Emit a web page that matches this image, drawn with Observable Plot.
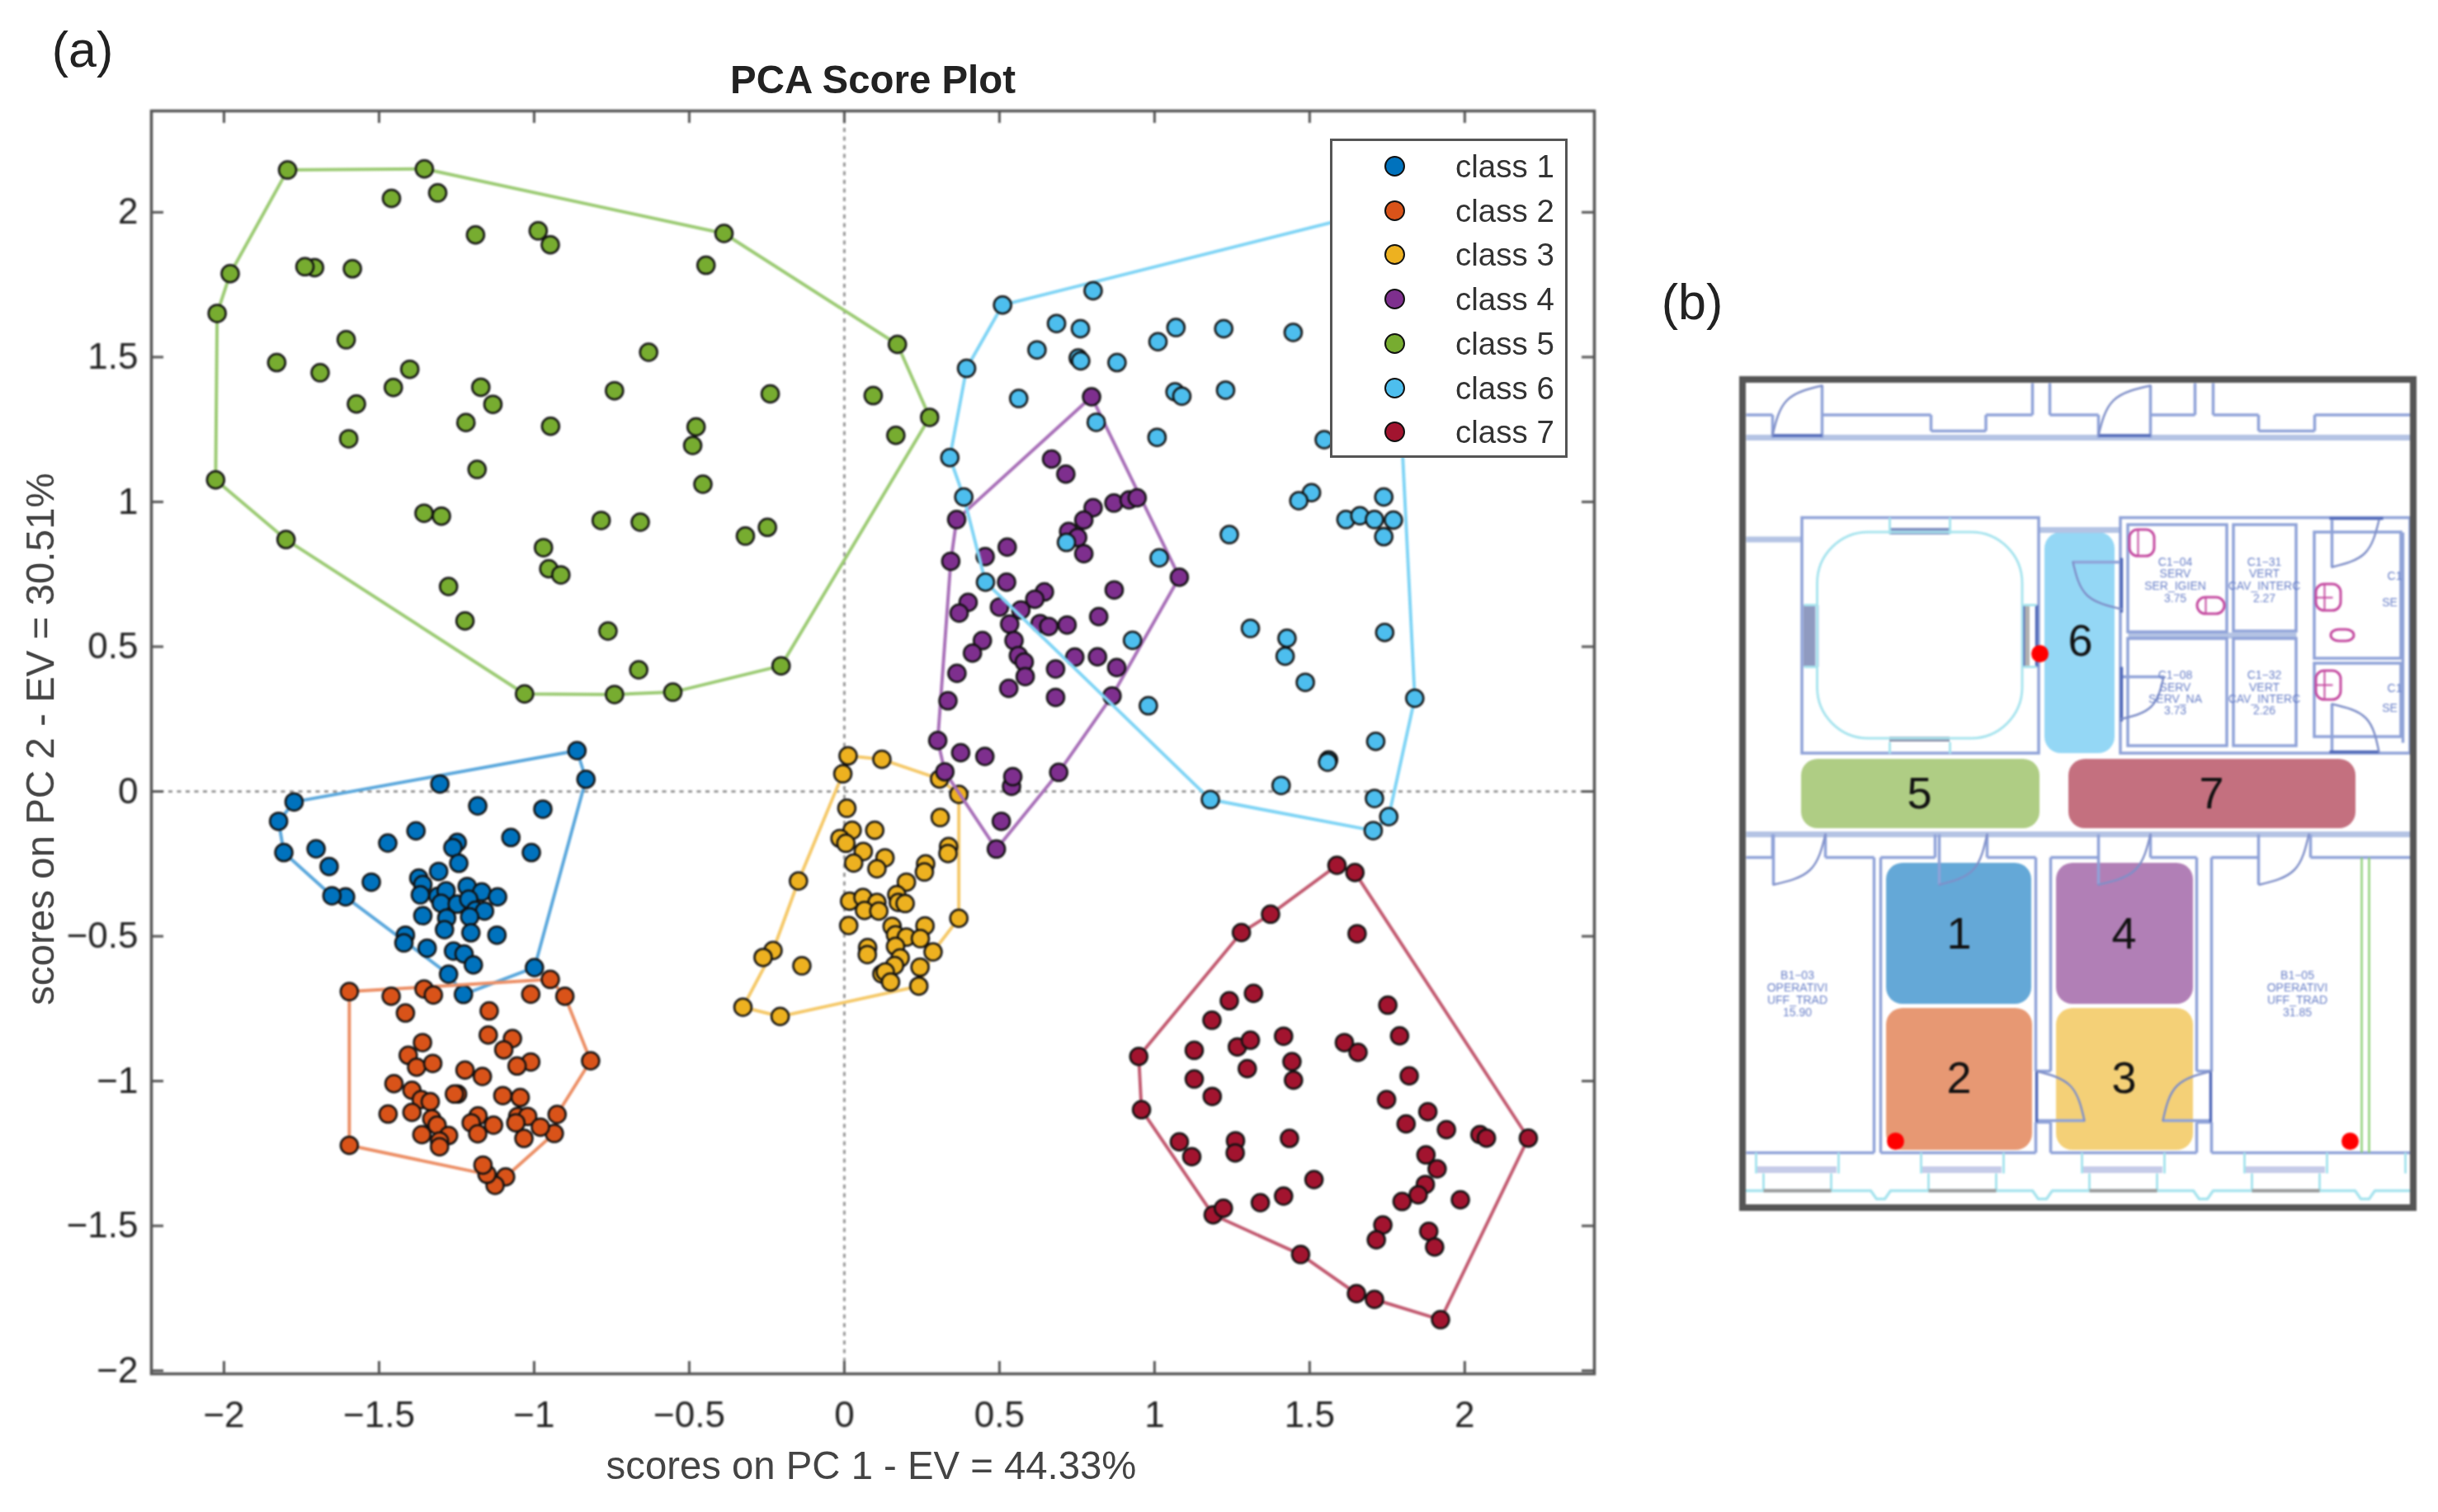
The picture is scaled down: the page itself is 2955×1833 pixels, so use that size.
<!DOCTYPE html>
<html>
<head>
<meta charset="utf-8">
<script src="https://cdn.jsdelivr.net/npm/d3@7"></script>
<script src="https://cdn.jsdelivr.net/npm/@observablehq/plot@0.6"></script>
<style>
html,body{margin:0;padding:0;background:#fff;width:2955px;height:1833px;overflow:hidden;font-family:"Liberation Sans",Arial,sans-serif}
#stage{position:relative;width:2955px;height:1833px}
#stage svg{filter:blur(.9px)}
.abs{position:absolute;color:#222;white-space:nowrap;filter:blur(.6px)}
#legend{position:absolute;left:1612px;top:168px;width:282px;height:381px;background:#fff;border:3.5px solid #555;filter:blur(.6px)}
#legend .dot{position:absolute;left:63px;width:21px;height:21px;border-radius:50%;border:2.5px solid #111}
#legend .lab{position:absolute;left:149px;font-size:38.5px;line-height:40px;color:#333}
</style>
</head>
<body>
<div id="stage"></div>
<script>
// ---------- (a) PCA scores ----------
const classNames = ["class 1","class 2","class 3","class 4","class 5","class 6","class 7"];
const classColors = ["#0072BD","#D95319","#EDB120","#7E2F8E","#77AC30","#4DBEEE","#A2142F"];
const hullColors = ["#5aa7dc","#ec8f66","#f5c96a","#a86fb8","#9ccb74","#7fd4f5","#c25a70"];
const xTicks = [-2,-1.5,-1,-0.5,0,0.5,1,1.5,2];
const yTicks = [-2,-1.5,-1,-0.5,0,0.5,1,1.5,2];

const hull1 = [[-0.862,0.141],[-0.833,0.042],[-0.999,-0.608],[-1.228,-0.701],[-1.276,-0.631],[-1.608,-0.364],[-1.652,-0.36],[-1.807,-0.211],[-1.824,-0.103],[-1.774,-0.036]];
const inner1 = [[-1.304,0.026],[-1.182,-0.05],[-0.972,-0.061],[-1.075,-0.159],[-1.009,-0.211],[-1.381,-0.136],[-1.472,-0.178],[-1.248,-0.176],[-1.262,-0.194],[-1.703,-0.198],[-1.661,-0.259],[-1.243,-0.248],[-1.308,-0.276],[-1.525,-0.313],[-1.372,-0.299],[-1.359,-0.321],[-1.367,-0.357],[-1.31,-0.362],[-1.284,-0.343],[-1.216,-0.328],[-1.169,-0.347],[-1.118,-0.364],[-1.30,-0.386],[-1.248,-0.389],[-1.211,-0.372],[-1.189,-0.41],[-1.16,-0.413],[-1.208,-0.433],[-1.359,-0.429],[-1.282,-0.437],[-1.289,-0.477],[-1.204,-0.488],[-1.12,-0.496],[-1.415,-0.496],[-1.42,-0.523],[-1.345,-0.541],[-1.26,-0.551],[-1.226,-0.561],[-1.196,-0.599]];

const hull2 = [[-1.596,-0.691],[-0.948,-0.649],[-0.901,-0.707],[-0.818,-0.93],[-0.926,-1.115],[-0.935,-1.181],[-1.092,-1.331],[-1.126,-1.36],[-1.152,-1.322],[-1.596,-1.222]];
const inner2 = [[-1.461,-0.707],[-1.355,-0.682],[-1.325,-0.703],[-1.011,-0.70],[-1.415,-0.765],[-1.145,-0.758],[-1.148,-0.841],[-1.07,-0.853],[-1.098,-0.892],[-1.36,-0.867],[-1.406,-0.911],[-1.379,-0.952],[-1.327,-0.939],[-1.011,-0.934],[-1.055,-0.948],[-1.223,-0.962],[-1.167,-0.984],[-1.452,-1.009],[-1.394,-1.032],[-1.247,-1.045],[-1.257,-1.045],[-1.101,-1.05],[-1.045,-1.057],[-1.364,-1.064],[-1.335,-1.071],[-1.471,-1.114],[-1.394,-1.108],[-1.33,-1.13],[-1.181,-1.12],[-1.203,-1.144],[-1.131,-1.152],[-1.053,-1.122],[-1.021,-1.122],[-1.059,-1.144],[-0.98,-1.159],[-1.313,-1.152],[-1.362,-1.185],[-1.276,-1.188],[-1.182,-1.182],[-1.033,-1.198],[-1.305,-1.207],[-1.305,-1.227],[-1.165,-1.29]];

const hull3 = [[0.012,0.123],[0.121,0.111],[0.307,0.043],[0.369,-0.01],[0.369,-0.438],[0.286,-0.554],[0.24,-0.672],[-0.207,-0.777],[-0.327,-0.745],[-0.23,-0.549],[-0.148,-0.309],[-0.005,0.061]];
const inner3 = [[0.008,-0.058],[0.309,-0.09],[0.098,-0.134],[0.025,-0.134],[-0.014,-0.162],[0.005,-0.179],[0.061,-0.207],[0.03,-0.247],[0.131,-0.229],[0.105,-0.267],[0.336,-0.19],[0.334,-0.214],[0.262,-0.25],[0.258,-0.278],[0.2,-0.313],[0.169,-0.356],[0.174,-0.383],[0.196,-0.387],[0.017,-0.379],[0.06,-0.366],[0.105,-0.383],[0.065,-0.411],[0.111,-0.413],[0.014,-0.463],[0.154,-0.466],[0.26,-0.464],[0.165,-0.495],[0.2,-0.503],[0.245,-0.508],[0.165,-0.535],[0.075,-0.539],[0.074,-0.563],[0.18,-0.575],[-0.137,-0.602],[-0.262,-0.573],[0.162,-0.601],[0.244,-0.607],[0.121,-0.63],[0.132,-0.623],[0.149,-0.658]];

const hull4 = [[0.797,1.363],[1.08,0.74],[0.863,0.33],[0.691,0.066],[0.49,-0.199],[0.324,0.068],[0.301,0.176],[0.343,0.795],[0.362,0.939]];
const inner4 = [[0.668,1.148],[0.714,1.096],[0.802,0.98],[0.869,0.996],[0.918,1.007],[0.944,1.014],[0.772,0.937],[0.723,0.898],[0.752,0.877],[0.772,0.821],[0.525,0.844],[0.454,0.811],[0.523,0.723],[0.87,0.696],[0.645,0.689],[0.614,0.664],[0.399,0.653],[0.37,0.616],[0.5,0.637],[0.569,0.627],[0.533,0.578],[0.631,0.58],[0.659,0.57],[0.718,0.575],[0.82,0.604],[0.547,0.521],[0.445,0.521],[0.413,0.478],[0.561,0.469],[0.58,0.447],[0.743,0.464],[0.816,0.465],[0.878,0.428],[0.681,0.423],[0.363,0.408],[0.583,0.397],[0.53,0.356],[0.681,0.325],[0.334,0.313],[0.375,0.134],[0.453,0.121],[0.539,0.018],[0.543,0.051],[0.506,-0.103]];

const hull5 = [[-1.795,2.146],[-1.354,2.15],[-0.388,1.927],[0.171,1.544],[0.275,1.292],[-0.204,0.434],[-0.553,0.343],[-0.741,0.335],[-1.031,0.337],[-1.80,0.87],[-2.027,1.076],[-2.022,1.651],[-1.98,1.788]];
const inner5 = [[-1.46,2.048],[-1.311,2.067],[-1.189,1.922],[-0.987,1.936],[-0.948,1.888],[-0.446,1.817],[-1.708,1.809],[-1.739,1.812],[-1.586,1.805],[-1.606,1.56],[-1.83,1.481],[-1.69,1.446],[-1.401,1.458],[-1.454,1.395],[-1.573,1.338],[-1.172,1.396],[-1.133,1.337],[-1.22,1.274],[-0.947,1.261],[-1.598,1.218],[-1.184,1.112],[-0.741,1.384],[-0.631,1.517],[-0.239,1.373],[0.093,1.367],[0.166,1.23],[-0.478,1.259],[-0.489,1.195],[-0.456,1.061],[-1.355,0.961],[-1.299,0.951],[-0.784,0.936],[-0.658,0.93],[-0.319,0.882],[-0.248,0.912],[-0.97,0.842],[-0.953,0.769],[-0.914,0.748],[-1.276,0.708],[-1.223,0.589],[-0.762,0.554],[-0.663,0.42]];

const hull6 = [[0.51,1.68],[1.76,2.016],[1.839,0.322],[1.755,-0.087],[1.705,-0.135],[1.18,-0.028],[0.455,0.723],[0.385,1.017],[0.34,1.153],[0.394,1.461]];
const inner6 = [[0.802,1.729],[0.684,1.616],[0.761,1.598],[0.621,1.525],[0.754,1.497],[0.762,1.487],[0.879,1.481],[1.011,1.553],[1.069,1.602],[1.223,1.598],[1.447,1.585],[0.562,1.357],[0.812,1.275],[1.066,1.38],[1.088,1.365],[1.229,1.386],[1.008,1.223],[1.547,1.215],[1.506,1.032],[1.465,1.004],[1.739,1.017],[1.617,0.939],[1.662,0.952],[1.709,0.939],[1.77,0.937],[1.739,0.88],[1.241,0.887],[0.716,0.86],[1.015,0.807],[1.309,0.563],[1.427,0.529],[1.421,0.467],[1.486,0.377],[1.742,0.549],[0.929,0.522],[0.98,0.296],[1.713,0.173],[1.561,0.109],[1.558,0.101],[1.408,0.021],[1.709,-0.024]];

const hull7 = [[1.588,-0.255],[1.646,-0.28],[2.205,-1.197],[1.922,-1.824],[1.709,-1.754],[1.651,-1.734],[1.471,-1.599],[1.189,-1.462],[0.958,-1.099],[0.949,-0.915],[1.28,-0.487],[1.374,-0.424]];
const inner7 = [[1.653,-0.491],[1.319,-0.697],[1.241,-0.723],[1.185,-0.79],[1.752,-0.738],[1.79,-0.844],[1.416,-0.845],[1.267,-0.882],[1.309,-0.859],[1.128,-0.894],[1.612,-0.867],[1.656,-0.901],[1.443,-0.933],[1.299,-0.957],[1.448,-0.997],[1.128,-0.993],[1.821,-0.982],[1.186,-1.053],[1.748,-1.064],[1.881,-1.106],[1.811,-1.148],[1.941,-1.168],[2.049,-1.185],[2.07,-1.197],[1.435,-1.198],[1.261,-1.206],[1.26,-1.248],[1.08,-1.21],[1.12,-1.261],[1.875,-1.255],[1.911,-1.303],[1.514,-1.34],[1.873,-1.357],[1.85,-1.393],[1.798,-1.416],[1.986,-1.41],[1.416,-1.397],[1.341,-1.42],[1.222,-1.439],[1.736,-1.497],[1.715,-1.548],[1.884,-1.519],[1.903,-1.573]];

const hulls = [hull1,hull2,hull3,hull4,hull5,hull6,hull7];
const inners = [inner1,inner2,inner3,inner4,inner5,inner6,inner7];

// ---------- (b) floor plan, in plan units ----------
const zoneRects = [
  {id:"6",x1:366,x2:451,y1:185,y2:453,fill:"#94d7f5",lx:409,ly:317},
  {id:"5",x1:71,x2:360,y1:460,y2:544,fill:"#afcd84",lx:214,ly:502},
  {id:"7",x1:395,x2:743,y1:460,y2:544,fill:"#c4707f",lx:568,ly:502},
  {id:"1",x1:174,x2:350,y1:586,y2:757,fill:"#64a8d7",lx:262,ly:672},
  {id:"4",x1:380,x2:546,y1:586,y2:757,fill:"#b17fb6",lx:462,ly:672},
  {id:"2",x1:174,x2:351,y1:762,y2:934,fill:"#e79873",lx:262,ly:847},
  {id:"3",x1:380,x2:546,y1:762,y2:934,fill:"#f4d077",lx:462,ly:847}
];
const sensors = [[360,332],[185,923],[736,923]];
const roomRects = [[72,167.5,359,453],[458,167.5,809,453],[467,176,587,306],[595,176,671,305],[467,314,587,444],[595,314,671,444],[693,185,798,338],[693,344,798,433]];
const wallsLight = [[4,70,809,70],[4,551,809,551],[4,193.5,72,193.5],[359,182,458,182],[467,310,671,310]];
const wallsMid = [
 [4,42.5,36,42.5],[96,42.5,228,42.5],[228,42.5,228,62],[228,62,294.5,62],[294.5,62,294.5,42.5],[294.5,42.5,351,42.5],[351,42.5,351,4],[372,4,372,42.5],[372,42.5,431,42.5],[494,42.5,548,42.5],[548,42.5,548,4],[570,4,570,42.5],[570,42.5,625,42.5],[625,42.5,625,62],[625,62,693,62],[693,62,693,42.5],[693,42.5,809,42.5],
 [36,42.5,36,70],[96,7,96,70],[431,42.5,431,70],[494,7,494,70],
 [4,579,36,579],[100,579,159,579],[167,579,233,579],[296,579,355,579],[373,579,431,579],[494,579,550,579],[568,579,625,579],[688,579,809,579],
 [36,551,36,579],[37,551,37,612],[100,551,100,579],[233,551,233,579],[238,551,238,612],[296,551,296,579],[431,551,431,612],[494,551,494,579],[625,551,625,612],[688,551,688,579],
 [159,579,159,937],[167,579,167,937],[355,579,355,838],[355,900,355,937],[373,579,373,838],[373,900,373,937],[550,579,550,838],[550,900,550,937],[568,579,568,838],[568,900,568,937],
 [4,937,159,937],[167,937,355,937],[373,937,550,937],[568,937,809,937],
 [355,838,373,838],[355,900,373,900],[550,838,568,838],[550,900,568,900],[356,898,414,898],[509,898,568,898],
 [400,221,459,221],[714,170,714,227],[714,393,714,451],[459,360,510,360],[800,185,800,440]
];
const wallsDark = [[36,67.5,96,67.5],[431,67.5,494,67.5],[711,168,776,168],[711,451,771,451],[459,216,459,282],[459,348,459,414],[356,838,356,900],[567,838,567,900],[90,273,90,348],[340,273,340,348],[356,273,356,348]];
const doorArcs = [
 [[96,7],[53.6,24.6],[36,67]],[[494,7],[449.5,24.6],[431,67]],
 [[37,612],[81.5,594],[100,551]],[[238,612],[279,594],[296,551]],[[431,612],[475.5,594],[494,551]],[[626,612],[668.4,594],[686,551]],
 [[356,838],[397,856],[414,898]],[[568,838],[526,856],[509,898]],
 [[400,221],[417,261],[459,278]],[[459,411],[495,396],[510,360]],
 [[771,170],[754,210],[714,227]],[[714,393],[755,410],[771,451]]
];
const grayPanels = [[74,273,88,348,"#8f9ac0"],[341,273,348,348,"#b0b0b0"],[178,180,251,188,"#8090c0"],[178,433,251,439,"#8a8fa8"]];
const cyanBits = [[178,167,178,187],[251,167,251,187],[178,439,178,453],[251,439,251,453],[74,273,90,273],[74,348,90,348],[340,273,356,273],[340,348,356,348],[803,937,803,962]];
const cyanEdge = [[4,983],[155,983],[162,993],[172,993],[179,983],[351,983],[358,993],[368,993],[375,983],[546,983],[553,993],[563,993],[570,983],[742,983],[749,993],[759,993],[766,983],[809,983]];
const cabin = [[90.5,185,339,435]];
const windowCentres = [66,266,461,658];
const greenRisers = [750,759];
const magentaBoxes = [[469,182,499,214],[551,264,584,284],[695,248,725,280],[695,353,725,388],[713,303,741,317]];
const magentaLines = [[479,182,479,214],[561,264,561,284],[705,248,705,280],[705,353,705,388],[695,264,715,264],[695,370,715,370]];
const roomTexts = [
 [524,221,"C1−04"],[524,235,"SERV"],[524,250,"SER_IGIEN"],[524,265,"3.75"],
 [632,221,"C1−31"],[632,235,"VERT"],[632,250,"CAV_INTERC"],[632,265,"2.27"],
 [524,358,"C1−08"],[524,373,"SERV"],[524,387,"SERV_NA"],[524,401,"3.73"],
 [632,358,"C1−32"],[632,373,"VERT"],[632,387,"CAV_INTERC"],[632,401,"2.26"],
 [66,722,"B1−03"],[66,737,"OPERATIVI"],[66,752,"UFF_TRAD"],[66,767,"15.90"],
 [672,722,"B1−05"],[672,737,"OPERATIVI"],[672,752,"UFF_TRAD"],[672,767,"31.85"],
 [790,238,"C1"],[784,270,"SE"],[790,374,"C1"],[784,398,"SE"]
];

// ---------- drawing ----------
const stage = document.getElementById("stage");
const P = d => d[0], Q = d => d[1];
const fmt = d => d < 0 ? "−" + (-d) : String(d);
const frameW = 1749, frameH = 1531;
const tickStroke = {stroke:"#555", strokeWidth:3};

const classMarks = hulls.flatMap((h,i) => [
  Plot.line([...h, h[0]], {x:P, y:Q, stroke:hullColors[i], strokeWidth:4}),
  Plot.dot([...h, ...inners[i]], {x:P, y:Q, r:10.5, fill:classColors[i], stroke:"#111", strokeWidth:2.5})
]);

const chart = Plot.plot({
  width:1960, height:1830,
  marginLeft:183, marginRight:28, marginTop:134, marginBottom:165,
  style:{background:"transparent", fontFamily:"'Liberation Sans',Arial,sans-serif"},
  x:{domain:[-2.234,2.418], label:null},
  y:{domain:[-2.011,2.350], label:null},
  marks:[
    Plot.ruleX([0],{strokeDasharray:"5 5.5", stroke:"#999", strokeWidth:3}),
    Plot.ruleY([0],{strokeDasharray:"5 5.5", stroke:"#999", strokeWidth:3}),
    ...classMarks,
    Plot.ruleX(xTicks,{x:d=>d, insetTop:frameH-15, ...tickStroke}),
    Plot.ruleX(xTicks,{x:d=>d, insetBottom:frameH-15, ...tickStroke}),
    Plot.ruleY(yTicks,{y:d=>d, insetRight:frameW-15, ...tickStroke}),
    Plot.ruleY(yTicks,{y:d=>d, insetLeft:frameW-15, ...tickStroke}),
    Plot.frame({stroke:"#555", strokeWidth:3.5}),
    Plot.axisX(xTicks,{anchor:"bottom", tickSize:0, tickPadding:33, fontSize:44, tickFormat:fmt, label:null, color:"#222"}),
    Plot.axisY(yTicks,{anchor:"left", tickSize:0, tickPadding:16, fontSize:44, tickFormat:fmt, label:null, color:"#222"})
  ]
});
chart.style.position="absolute"; chart.style.left="0"; chart.style.top="0";
stage.appendChild(chart);

const addText = (txt, left, top, size, extra="") => {
  const e = document.createElement("div");
  e.className = "abs";
  e.textContent = txt;
  e.style.cssText = `left:${left}px;top:${top}px;font-size:${size}px;line-height:${size}px;transform:translate(-50%,-50%) ${extra};`;
  stage.appendChild(e);
  return e;
};
addText("(a)", 100, 60, 61);
addText("(b)", 2051, 366, 61);
addText("PCA Score Plot", 1058, 97, 47.4).style.fontWeight = "bold";
addText("scores on PC 1 - EV = 44.33%", 1056, 1777, 47.3).style.color = "#444";
addText("scores on PC 2 - EV = 30.51%", 49, 896, 47.5, "rotate(-90deg)").style.color = "#444";

// legend
const legend = document.createElement("div");
legend.id = "legend";
classNames.forEach((name,i) => {
  const cy = 28 + i*53.7;
  const dot = document.createElement("div");
  dot.className = "dot"; dot.style.top = (cy-10)+"px"; dot.style.background = classColors[i];
  const lab = document.createElement("div");
  lab.className = "lab"; lab.textContent = name; lab.style.top = (cy-17)+"px";
  legend.append(dot, lab);
});
stage.appendChild(legend);

// floor plan
const seg = (rows, o) => Plot.link(rows, {x1:d=>d[0], y1:d=>d[1], x2:d=>d[2], y2:d=>d[3], ...o});
const box = (rows, o) => Plot.rect(rows, {x1:d=>d[0], y1:d=>d[1], x2:d=>d[2], y2:d=>d[3], ...o});
const arcRows = doorArcs.flatMap((a,i) => a.map(p => ({x:p[0], y:p[1], id:i})));
const plan = Plot.plot({
  width:825, height:1016, margin:6,
  style:{background:"transparent", fontFamily:"'Liberation Sans',Arial,sans-serif"},
  x:{domain:[0,813], range:[6,819], axis:null},
  y:{domain:[0,1004], range:[6,1010], axis:null},
  marks:[
    Plot.rect(zoneRects,{x1:"x1",x2:"x2",y1:"y1",y2:"y2",fill:"fill",rx:20}),
    seg(wallsLight,{stroke:"#b4c3e4", strokeWidth:7}),
    box(roomRects,{fill:"none", stroke:"#8fa2d8", strokeWidth:3.5}),
    seg(wallsMid,{stroke:"#8fa2d8", strokeWidth:3.5}),
    box(grayPanels,{fill:d=>d[4]}),
    seg(wallsDark,{stroke:"#5068b8", strokeWidth:3.5}),
    Plot.line(arcRows,{x:"x", y:"y", z:"id", curve:"natural", stroke:"#7f8fc8", strokeWidth:2.5}),
    box(cabin,{fill:"none", stroke:"#a8e4ee", strokeWidth:3, rx:62}),
    seg(cyanBits,{stroke:"#a8e4ee", strokeWidth:3}),
    Plot.line(cyanEdge,{x:P, y:Q, stroke:"#a8e4ee", strokeWidth:3.5}),
    Plot.rect(windowCentres,{x1:d=>d-48, x2:d=>d+48, y1:()=>954, y2:()=>962, fill:"#c5cbe8"}),
    Plot.link(windowCentres,{x1:d=>d-50, x2:d=>d-50, y1:()=>937, y2:()=>962, stroke:"#a8e4ee", strokeWidth:3}),
    Plot.link(windowCentres,{x1:d=>d+50, x2:d=>d+50, y1:()=>937, y2:()=>962, stroke:"#a8e4ee", strokeWidth:3}),
    Plot.link(windowCentres,{x1:d=>d-41, x2:d=>d-41, y1:()=>962, y2:()=>983, stroke:"#a8e4ee", strokeWidth:3}),
    Plot.link(windowCentres,{x1:d=>d+41, x2:d=>d+41, y1:()=>962, y2:()=>983, stroke:"#a8e4ee", strokeWidth:3}),
    Plot.link(windowCentres,{x1:d=>d-41, x2:d=>d+41, y1:()=>983, y2:()=>983, stroke:"#999", strokeWidth:4}),
    Plot.link(greenRisers,{x1:d=>d, x2:d=>d, y1:()=>579, y2:()=>937, stroke:"#8fd07a", strokeWidth:2.5}),
    box(magentaBoxes,{fill:"none", stroke:"#c44aa0", strokeWidth:3, rx:10}),
    seg(magentaLines,{stroke:"#c44aa0", strokeWidth:2}),
    Plot.text(roomTexts,{x:P, y:Q, text:d=>d[2], fontSize:14, fill:"#6a80c8"}),
    Plot.text(zoneRects,{x:"lx", y:"ly", text:"id", fontSize:54, fill:"#111"}),
    Plot.dot(sensors,{x:P, y:Q, r:10.5, fill:"#ff0000"}),
    Plot.rect([[0,0,813,1004]],{x1:d=>d[0],y1:d=>d[1],x2:d=>d[2],y2:d=>d[3],fill:"none",stroke:"#555",strokeWidth:8})
  ]
});
plan.style.position="absolute"; plan.style.left="2106px"; plan.style.top="454px";
stage.appendChild(plan);
</script>
</body>
</html>
